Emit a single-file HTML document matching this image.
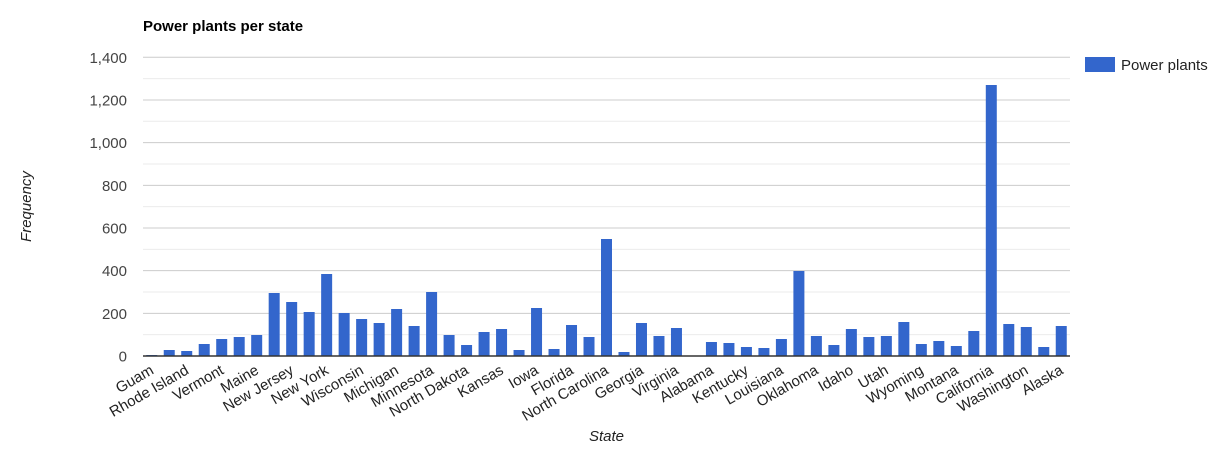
<!DOCTYPE html>
<html><head><meta charset="utf-8"><style>
html,body{margin:0;padding:0;background:#fff;}
svg{display:block;font-family:"Liberation Sans",Arial,sans-serif;}
</style></head><body>
<svg width="1227" height="449" viewBox="0 0 1227 449" xmlns="http://www.w3.org/2000/svg">
<rect width="1227" height="449" fill="#fff"/>
<text x="143" y="31" font-size="15" font-weight="bold" fill="#000">Power plants per state</text>
<g id="grid"></g>
<g id="bars"></g>
<line x1="143" y1="356" x2="1070" y2="356" stroke="#333" stroke-width="1.5"/>
<g id="ylab" font-size="15" fill="#444" text-anchor="end"></g>
<g id="xlab" font-size="15" fill="#222" text-anchor="end"></g>
<text x="31" y="206.5" font-size="15" font-style="italic" fill="#222" text-anchor="middle" transform="rotate(-90 31 206.5)">Frequency</text>
<text x="606.5" y="441" font-size="15" font-style="italic" fill="#222" text-anchor="middle">State</text>
<rect x="1085" y="57" width="30" height="15" fill="#3366cc"/>
<text x="1121" y="70" font-size="15" fill="#222">Power plants</text>
</svg>
<script>
(function(){
var NS="http://www.w3.org/2000/svg";
function el(t,a,txt){var e=document.createElementNS(NS,t);for(var k in a)e.setAttribute(k,a[k]);if(txt!==undefined)e.textContent=txt;return e;}
var grid=document.getElementById("grid"),bars=document.getElementById("bars"),yl=document.getElementById("ylab"),xl=document.getElementById("xlab");
var base=356,sc=298.7/1400;
for(var v=100;v<=1400;v+=100){
 var y=base-v*sc;
 grid.appendChild(el("line",{x1:143,x2:1070,y1:y,y2:y,stroke:(v%200==0)?"#cccccc":"#ebebeb","stroke-width":1}));
}
var labs=["0","200","400","600","800","1,000","1,200","1,400"];
for(var i=0;i<8;i++){var y=base-i*200*sc;yl.appendChild(el("text",{x:127,y:y+5.5},labs[i]));}
var tops=[355,350,351,344,339,337,335,293,302,312,274,313,319,323,309,326,292,335,345,332,329,350,308,349,325,337,239,352,323,336,328,null,342,343,347,348,339,271,336,345,329,337,336,322,344,341,346,331,85,324,327,347,326];
var slot=927/53;
for(var i=0;i<tops.length;i++){
 if(tops[i]===null)continue;
 var c=143+slot*(i+0.5);
 bars.appendChild(el("rect",{x:c-5.5,y:tops[i],width:11,height:base-tops[i],fill:"#3366cc"}));
}
var names=["Guam","Rhode Island","Vermont","Maine","New Jersey","New York","Wisconsin","Michigan","Minnesota","North Dakota","Kansas","Iowa","Florida","North Carolina","Georgia","Virginia","Alabama","Kentucky","Louisiana","Oklahoma","Idaho","Utah","Wyoming","Montana","California","Washington","Alaska"];
for(var j=0;j<names.length;j++){
 var c=143+slot*(2*j+0.5)+3,y=373;
 xl.appendChild(el("text",{x:c,y:y,transform:"rotate(-30 "+c+" "+y+")"},names[j]));
}
})();
</script>
</body></html>
